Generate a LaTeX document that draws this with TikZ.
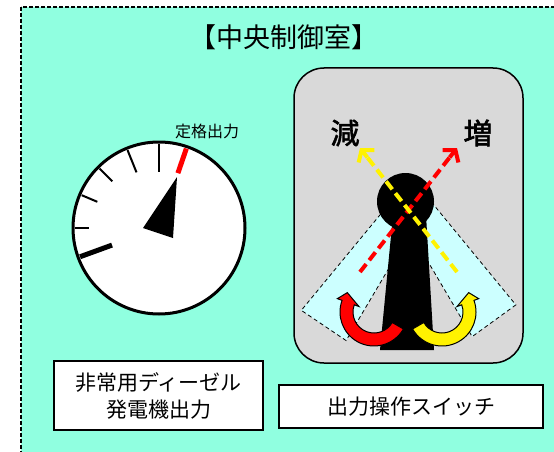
\documentclass[tikz,border=0pt]{standalone}
\usepackage{fontspec}
\setmainfont{Noto Sans CJK JP}
\newfontfamily\boldjp[FakeBold=2]{Noto Sans CJK JP}
\usepackage{tikz}
\usetikzlibrary{arrows.meta,calc}
\definecolor{roombg}{HTML}{90FFE0}
\definecolor{panelgray}{HTML}{D9D9D9}
\definecolor{sweepcyan}{HTML}{CCFFFF}
\newcommand{\fsz}[1]{\fontsize{#1}{#1}\selectfont}
% stem of the switch lever, knob centre at (405.5,201.5)
\newcommand{\stemshape}{(393,215) -- (426,215) -- (434,350) -- (380,350) -- cycle}
% fat bent arrow round (#1,#2), mirrored with #3=-1
\newcommand{\turnarrow}[4]{
\begin{scope}[shift={(#1,#2)}, xscale=#3]
  \draw[line width=1pt, fill=#4, line join=miter]
    (30:34) arc[start angle=30, end angle=200, radius=34]
    -- (200:39) -- (216:33) -- (200:16) -- (200:21)
    arc[start angle=200, end angle=30, radius=21] -- cycle;
\end{scope}
}
\tikzset{
  sweep/.style={fill=sweepcyan, draw=black, line width=0.8pt, dash pattern=on 4pt off 3pt},
  lever/.style={line width=4pt, dash pattern=on 10pt off 5pt, shorten >=6pt},
  levertip/.style={line width=4pt, -{Straight Barb[length=8pt, width=20pt]}},
  labelbox/.style={draw, fill=white, line width=1.5pt, align=center, inner sep=0pt}
}

\begin{document}
\begin{tikzpicture}[x=1pt, y=-1pt]
\useasboundingbox (0,0) rectangle (554,452);
\clip (0,0) rectangle (554,452);

% room
\draw[fill=roombg, line width=1.2pt, dash pattern=on 4pt off 2pt] (21,7) rectangle (580,480);
\node (title) at (284,37) {\fsz{27}【中央制御室】};

% output meter
\coordinate (gc) at (159,228);
\draw[line width=3pt, fill=white] (gc) circle (86);
\begin{scope}[shift={(gc)}]
\foreach \a/\r in {-90/56, -112/60, -135/66, -157/67, -180/70}
  \draw[line width=2pt] (\a:84) -- (\a:\r);
\draw[line width=5pt] (-200:84) -- (-200:50);
\draw[line width=5pt, red] (-71:84) -- (-71:58);
\end{scope}
\fill (177,177) -- (143,228) -- (173,238) -- cycle;
\node (rated) at (207,131) {\fsz{16}定格出力};
\node[labelbox, minimum width=209pt, minimum height=69pt,
  font=\fontsize{21}{27}\selectfont] (dglabel) at (158.5,395.5)
  {非常用ディーゼル\\発電機出力};

% switch panel
\draw[fill=panelgray, line width=1.5pt, rounded corners=30pt] (294,68) rectangle (523,363);
\coordinate (knob) at (405.5,201.5);
\begin{scope}[rotate around={-34:(knob)}]
  \draw[sweep] \stemshape;
\end{scope}
\begin{scope}[rotate around={36:(knob)}]
  \draw[sweep] \stemshape;
\end{scope}
\fill \stemshape;
\fill (knob) circle (28.5);

\turnarrow{374}{312}{1}{red}
\turnarrow{442}{312}{-1}{yellow}

\coordinate (redfrom) at (360,272);
\coordinate (redto) at (457,148);
\coordinate (yelfrom) at (457,272);
\coordinate (yelto) at (360,148);
\draw[lever, red] (redfrom) -- (redto);
\draw[levertip, red] ($(redto)!12pt!(redfrom)$) -- (redto);
\draw[lever, yellow] (yelfrom) -- (yelto);
\draw[levertip, yellow] ($(yelto)!12pt!(yelfrom)$) -- (yelto);
\node (dec) at (345,133) {\boldjp\fsz{29}減};
\node (inc) at (478,133) {\boldjp\fsz{29}増};

\node[labelbox, minimum width=264pt, minimum height=43pt] (swlabel) at (411,406.5)
  {\fsz{21}出力操作スイッチ};
\end{tikzpicture}
\end{document}
